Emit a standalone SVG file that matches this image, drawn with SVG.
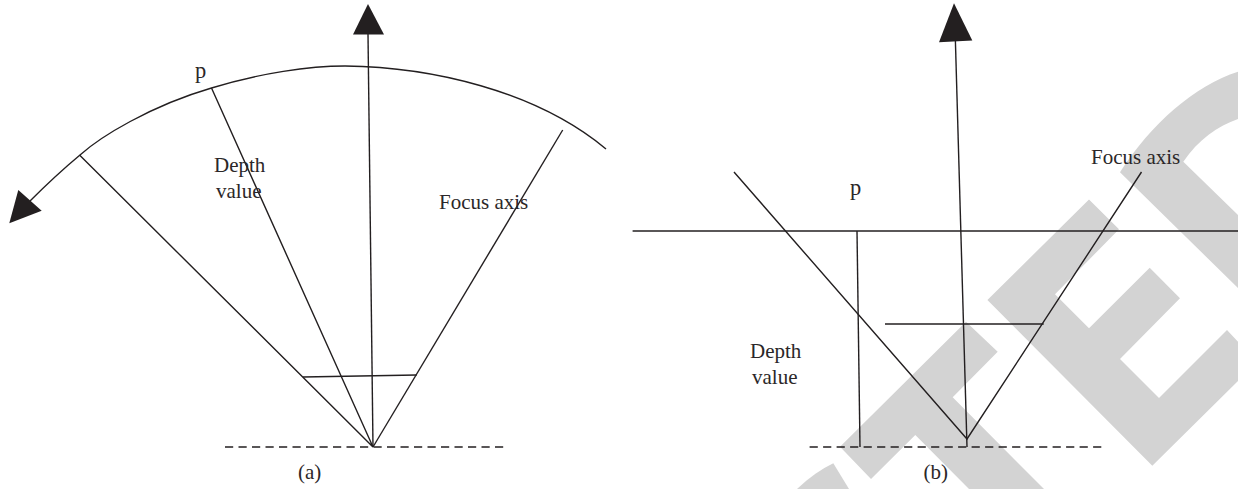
<svg xmlns="http://www.w3.org/2000/svg" width="1238" height="489" viewBox="0 0 1238 489">
<style>
.l{fill:none;stroke:#231f20;stroke-width:1.4}
.d{fill:none;stroke:#231f20;stroke-width:1.4;stroke-dasharray:8.2 5.3}
.h{fill:#231f20;stroke:none}
.w{fill:#d3d3d3;stroke:none}
text{font-family:"Liberation Serif","Times New Roman",serif;font-size:21px;fill:#2b2728}
.p{font-size:22.5px}
</style>
<rect width="1238" height="489" fill="#fff"/>
<g id="watermark">
<path class="w" d="M797,489Q815,472 833.3,463.3L849,489Z"/>
<polygon class="w" points="966,321.7 997.7,351.7 952.7,397.3 1044,489 969,489 915.3,435 871,479 840,446.7"/>
<polygon class="w" points="1089,199.5 1119,229.3 1055,294.3 1089,328.3 1149.7,267.7 1180,298.3 1120,359 1159,398 1227,330 1238,341.7 1238,381 1152.3,465.7 987.4,300"/>
<path class="w" d="M1238,71.7C1195,85 1150,125 1120,172.3L1238,288L1238,215L1183.3,161.7C1198,140 1218,126 1238,119Z"/>
</g>
<g id="connectors">
<path class="l" d="M30,201C45,186 62,170 80,155C100,137 150,106 211.5,88C260,73 310,66 345,66C430,67 535,90 606,149"/>
<line class="l" x1="368" y1="34" x2="373" y2="447"/>
<polyline class="l" points="79.5,155 373,447 211.5,88"/>
<line class="l" x1="373" y1="447" x2="562.7" y2="130"/>
<line class="l" x1="303" y1="377" x2="416.7" y2="375"/>
<line class="d" x1="225" y1="447" x2="504" y2="447"/>
<polygon class="h" points="368,4 353,34.5 384,34.5"/>
<polygon class="h" points="18.3,190 41.7,210.7 9.3,223.3"/>
<line class="l" x1="955.4" y1="41" x2="967" y2="447"/>
<polyline class="l" points="734,172 967,439 1141.5,172"/>
<line class="l" x1="632.6" y1="231" x2="1238" y2="231"/>
<line class="l" x1="857" y1="231" x2="860" y2="447"/>
<line class="l" x1="885" y1="324" x2="1043.7" y2="324"/>
<line class="d" x1="809.6" y1="447" x2="1101.7" y2="447"/>
<polygon class="h" points="954,3.3 939,42.3 972.3,40.5"/>
</g>
<g id="panel-a-labels">
<text class="p" x="195" y="78">p</text>
<text x="214" y="172">Depth</text>
<text x="216" y="198">value</text>
<text x="439" y="209">Focus axis</text>
<text x="298" y="479">(a)</text>
</g>
<g id="panel-b-labels">
<text class="p" x="850" y="195">p</text>
<text x="750" y="358">Depth</text>
<text x="752" y="384">value</text>
<text x="1091" y="164">Focus axis</text>
<text x="923.5" y="479">(b)</text>
</g>
</svg>
